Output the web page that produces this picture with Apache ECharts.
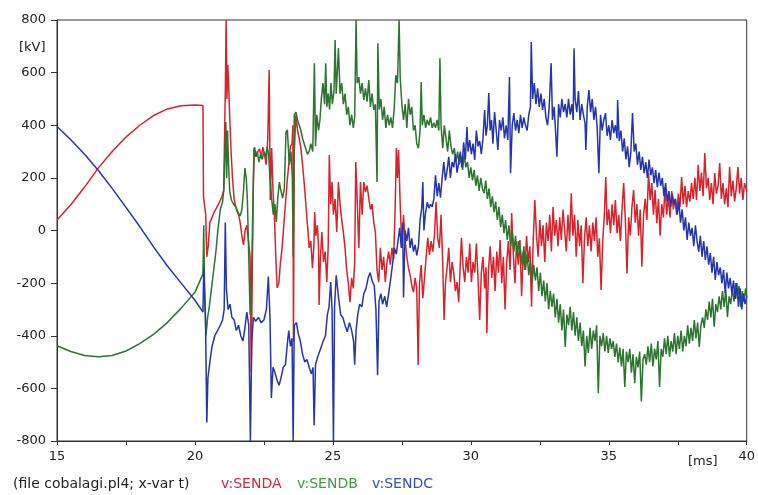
<!DOCTYPE html>
<html>
<head>
<meta charset="utf-8">
<script src="https://cdn.jsdelivr.net/npm/echarts@6/dist/echarts.min.js"></script>
<style>
  html, body { margin: 0; padding: 0; background: #fff; }
  #chart { width: 758px; height: 495px; }
</style>
</head>
<body>
<div id="chart"></div>
<script>
// ATP plot: sending-end phase voltages [kV] against time [ms]
const xTicks = [15, 20, 25, 30, 35, 40];
const yTicks = [800, 600, 400, 200, 0, -200, -400, -600, -800];

// v:SENDA  [t (ms), kV]
const sendA = [
  [15.0,40],[15.5,98],[16.0,165],[16.5,238],[17.0,300],[17.5,355],[18.0,400],[18.5,437],[19.0,462],[19.5,474],[20.0,477],[20.29,475],
  [20.31,128],[20.36,135],[20.39,60],[20.43,-100],[20.48,-60],[20.54,30],[20.62,50],[20.7,70],[20.8,90],[20.9,110],[20.98,130],[21.04,150],
  [21.08,400],[21.1,522],[21.13,800],[21.16,500],[21.19,630],[21.22,560],[21.26,430],[21.31,300],[21.36,200],[21.42,120],[21.5,80],[21.58,60],
  [21.64,30],[21.7,-20],[21.76,-55],[21.82,0],[21.88,20],[21.94,-40],[22.0,-100],[22.04,-540],[22.08,-150],[22.12,200],[22.16,317],[22.22,280],
  [22.28,300],[22.34,310],[22.4,280],[22.46,317],[22.52,290],[22.58,250],[22.64,350],[22.69,610],[22.73,116],[22.78,313],[22.83,150],[22.88,59],
  [22.93,-100],[22.98,-218],[23.04,-200],[23.1,-120],[23.16,-66],[23.22,20],[23.28,100],[23.34,184],[23.4,250],[23.46,320],[23.52,330],[23.55,400],
  [23.57,-423],[23.6,300],[23.66,439],[23.72,380],[23.78,351],[23.84,313],[23.9,250],[23.96,180],[24.02,100],[24.08,20],[24.14,-66],[24.2,-40],
  [24.26,-143],[24.31,-60],[24.34,70],[24.38,-20],[24.44,20],[24.48,-66],[24.5,-283],[24.55,-100],[24.6,-6],[24.66,-120],[24.72,-80],[24.78,-196],
  [24.83,-60],[24.87,287],[24.92,100],[24.97,184],[25.02,60],[25.08,120],[25.14,-6],[25.2,184],[25.26,100],[25.32,40],[25.38,-6],[25.44,-66],
  [25.5,-150],[25.56,-200],[25.62,-272],[25.68,-180],[25.74,-220],[25.79,-120],[25.83,260],[25.88,120],[25.94,-66],[26.0,184],[26.06,60],[26.12,184],
  [26.18,146],[26.24,170],[26.3,123],[26.36,80],[26.42,100],[26.48,32],[26.54,-6],[26.6,-150],[26.66,-196],[26.72,-66],[26.78,-150],[26.84,-100],
  [26.9,-196],[26.96,-120],[27.02,-80],[27.08,-130],[27.14,-66],[27.2,-110],[27.26,100],[27.3,313],[27.34,200],[27.38,306],[27.44,100],[27.5,-66],
  [27.56,59],[27.62,-40],[27.68,-100],[27.74,-143],[27.8,-170],[27.86,-210],[27.92,-234],[27.98,-180],[28.04,-220],[28.09,-511],[28.14,-200],[28.2,-131],
  [28.26,-257],[28.32,-180],[28.38,-100],[28.44,-28],[28.5,-93],[28.56,-40],[28.62,-80],[28.68,-20],[28.74,108],[28.8,-30],[28.86,-66],[28.92,60],
  [28.98,-120],[29.03,-340],[29.08,-200],[29.14,-140],[29.2,-66],[29.26,-196],[29.32,-120],[29.38,-160],[29.44,-230],[29.5,-196],[29.56,-272],[29.62,-120],
  [29.66,-28],[29.72,-140],[29.78,-196],[29.84,-100],[29.9,-160],[29.96,-50],[30.02,-196],[30.08,-120],[30.14,-160],[30.2,-50],[30.26,-180],[30.32,-340],
  [30.38,-160],[30.44,-100],[30.5,-220],[30.55,-140],[30.58,-390],[30.64,-150],[30.7,-60],[30.76,-180],[30.82,-100],[30.88,-230],[30.94,-80],[31.0,-160],
  [31.06,-36],[31.12,-200],[31.18,-100],[31.24,-300],[31.3,-120],[31.36,-40],[31.42,-150],[31.48,66],[31.54,-90],[31.6,-200],[31.66,-40],[31.72,-130],
  [31.78,-36],[31.84,-250],[31.9,-80],[31.96,-150],[32.02,-20],[32.08,-120],[32.14,-60],[32.2,-290],[32.26,-40],[32.32,116],[32.38,-20],[32.44,-100],
  [32.5,40],[32.56,-60],[32.62,20],[32.68,-120],[32.74,30],[32.8,-40],[32.86,60],[32.92,-80],[32.98,89],[33.04,-20],[33.1,40],[33.16,-60],
  [33.22,50],[33.28,-36],[33.34,80],[33.4,0],[33.46,-80],[33.52,60],[33.58,-40],[33.64,141],[33.7,-20],[33.76,60],[33.82,-100],[33.88,40],
  [33.94,-60],[34.0,20],[34.06,-200],[34.12,-30],[34.18,50],[34.24,-60],[34.3,20],[34.36,-80],[34.42,30],[34.48,-40],[34.54,50],[34.6,-100],
  [34.66,-30],[34.72,-226],[34.78,-40],[34.84,60],[34.89,203],[34.94,20],[35.0,80],[35.06,-10],[35.12,100],[35.18,20],[35.24,116],[35.3,-10],
  [35.36,60],[35.42,-40],[35.48,80],[35.54,180],[35.6,40],[35.66,-163],[35.72,50],[35.78,-20],[35.84,90],[35.9,154],[35.96,30],[36.02,100],
  [36.08,-20],[36.14,80],[36.2,-138],[36.26,60],[36.32,120],[36.38,40],[36.44,218],[36.5,116],[36.56,180],[36.62,60],[36.68,154],[36.74,28],
  [36.8,120],[36.86,-20],[36.92,100],[36.98,50],[37.04,165],[37.1,60],[37.16,130],[37.22,50],[37.28,150],[37.34,80],[37.4,120],[37.46,60],
  [37.52,140],[37.58,89],[37.64,203],[37.7,100],[37.76,170],[37.82,89],[37.88,150],[37.94,110],[38.0,180],[38.06,120],[38.12,200],[38.18,116],
  [38.24,250],[38.3,150],[38.36,220],[38.42,130],[38.48,294],[38.54,160],[38.6,200],[38.66,116],[38.72,180],[38.78,100],[38.84,218],[38.9,140],
  [38.96,170],[39.02,256],[39.08,120],[39.14,180],[39.2,100],[39.26,160],[39.32,89],[39.38,241],[39.44,130],[39.5,190],[39.56,110],[39.62,160],
  [39.68,241],[39.74,140],[39.8,200],[39.86,116],[39.92,180],[40.0,150]
];

// v:SENDB  [t (ms), kV]
const sendB = [
  [15.0,-438],[15.5,-460],[16.0,-475],[16.5,-480],[17.0,-475],[17.5,-458],[18.0,-430],[18.5,-395],[19.0,-350],[19.5,-295],[20.0,-235],[20.29,-165],
  [20.32,20],[20.35,-245],[20.4,-400],[20.46,-330],[20.52,-290],[20.6,-220],[20.68,-150],[20.76,-80],[20.84,10],[20.92,80],[21.0,108],[21.05,160],
  [21.09,300],[21.12,412],[21.15,200],[21.18,380],[21.22,250],[21.26,150],[21.32,116],[21.4,100],[21.48,90],[21.56,70],[21.64,55],[21.7,80],
  [21.76,150],[21.81,237],[21.86,200],[21.9,120],[21.95,-100],[22.0,-320],[22.05,-200],[22.1,100],[22.14,313],[22.2,280],[22.26,300],[22.32,260],
  [22.38,290],[22.44,270],[22.5,300],[22.56,280],[22.62,317],[22.67,290],[22.72,200],[22.78,120],[22.84,60],[22.9,100],[22.95,32],[23.0,120],
  [23.06,184],[23.12,150],[23.18,123],[23.24,160],[23.3,374],[23.35,382],[23.42,250],[23.48,300],[23.53,200],[23.56,-100],[23.6,440],[23.66,450],
  [23.72,420],[23.78,400],[23.84,380],[23.9,350],[23.96,330],[24.02,310],[24.08,290],[24.14,300],[24.2,330],[24.27,300],[24.33,636],[24.37,320],
  [24.42,440],[24.48,380],[24.53,420],[24.58,500],[24.64,560],[24.7,480],[24.74,636],[24.78,470],[24.83,520],[24.88,460],[24.93,560],[24.98,480],
  [25.04,530],[25.08,724],[25.12,520],[25.16,600],[25.2,693],[25.26,520],[25.32,560],[25.38,480],[25.44,520],[25.5,440],[25.56,470],[25.62,400],
  [25.68,440],[25.74,390],[25.79,430],[25.84,800],[25.88,560],[25.94,583],[26.0,520],[26.06,560],[26.12,496],[26.18,540],[26.24,490],[26.3,572],
  [26.36,470],[26.42,520],[26.48,458],[26.54,480],[26.6,184],[26.63,712],[26.68,460],[26.74,500],[26.8,420],[26.86,470],[26.92,390],[26.98,440],
  [27.04,400],[27.1,430],[27.16,390],[27.22,460],[27.28,590],[27.34,560],[27.4,800],[27.44,580],[27.5,480],[27.56,420],[27.62,480],[27.68,390],
  [27.74,500],[27.8,440],[27.86,470],[27.92,380],[27.98,400],[28.04,330],[28.1,313],[28.16,380],[28.2,564],[28.24,400],[28.3,439],[28.36,390],
  [28.42,420],[28.48,400],[28.54,430],[28.6,390],[28.66,410],[28.72,390],[28.78,420],[28.84,380],[28.88,655],[28.92,400],[28.98,313],[29.04,400],
  [29.1,350],[29.16,300],[29.22,380],[29.28,320],[29.34,290],[29.4,313],[29.46,260],[29.52,300],[29.58,250],[29.64,280],[29.7,230],[29.76,290],
  [29.82,240],[29.88,260],[29.94,200],[30.0,240],[30.06,190],[30.12,230],[30.18,170],[30.24,210],[30.3,150],[30.36,200],[30.42,160],[30.48,142],
  [30.54,190],[30.6,120],[30.66,160],[30.72,89],[30.78,130],[30.84,70],[30.9,110],[30.96,40],[31.02,90],[31.08,13],[31.14,60],[31.2,-10],
  [31.26,40],[31.32,-36],[31.38,20],[31.44,-60],[31.5,0],[31.56,-80],[31.62,-20],[31.68,-100],[31.74,-40],[31.8,-74],[31.86,-130],[31.92,-60],
  [31.98,-150],[32.04,-90],[32.1,-170],[32.16,-110],[32.22,-200],[32.28,-130],[32.34,-190],[32.4,-140],[32.46,-230],[32.52,-160],[32.58,-250],[32.64,-190],
  [32.7,-270],[32.76,-200],[32.82,-300],[32.88,-230],[32.94,-290],[33.0,-240],[33.06,-330],[33.12,-260],[33.18,-350],[33.24,-280],[33.3,-380],[33.36,-300],
  [33.42,-443],[33.48,-320],[33.54,-360],[33.6,-290],[33.66,-380],[33.72,-310],[33.78,-400],[33.84,-330],[33.9,-420],[33.96,-350],[34.02,-440],[34.08,-380],
  [34.14,-517],[34.2,-400],[34.26,-465],[34.32,-370],[34.38,-450],[34.44,-380],[34.5,-420],[34.56,-360],[34.62,-618],[34.68,-400],[34.74,-440],[34.8,-390],
  [34.86,-460],[34.92,-400],[34.98,-465],[35.04,-410],[35.1,-450],[35.16,-420],[35.22,-480],[35.28,-430],[35.34,-500],[35.4,-445],[35.46,-517],[35.52,-450],
  [35.58,-595],[35.64,-460],[35.7,-500],[35.76,-450],[35.82,-540],[35.88,-470],[35.94,-580],[36.0,-480],[36.06,-520],[36.12,-460],[36.18,-650],[36.24,-490],
  [36.3,-470],[36.36,-510],[36.42,-440],[36.48,-500],[36.54,-430],[36.6,-517],[36.66,-450],[36.72,-490],[36.78,-420],[36.84,-595],[36.9,-450],[36.96,-480],
  [37.02,-410],[37.08,-470],[37.14,-400],[37.2,-480],[37.26,-420],[37.32,-460],[37.38,-390],[37.44,-470],[37.5,-400],[37.56,-450],[37.62,-380],[37.68,-460],
  [37.74,-400],[37.8,-440],[37.86,-360],[37.92,-430],[37.98,-370],[38.04,-420],[38.1,-340],[38.16,-410],[38.22,-350],[38.28,-443],[38.34,-360],[38.4,-330],
  [38.46,-370],[38.52,-300],[38.58,-340],[38.64,-270],[38.7,-330],[38.76,-260],[38.82,-366],[38.88,-280],[38.94,-310],[39.0,-250],[39.06,-300],[39.12,-230],
  [39.18,-290],[39.24,-226],[39.3,-329],[39.36,-250],[39.42,-280],[39.48,-220],[39.54,-270],[39.6,-200],[39.66,-260],[39.72,-210],[39.78,-290],[39.84,-230],
  [39.9,-270],[39.96,-220],[40.0,-250]
];

// v:SENDC  [t (ms), kV]
const sendC = [
  [15.0,395],[15.5,345],[16.0,290],[16.5,228],[17.0,160],[17.5,88],[18.0,15],[18.5,-62],[19.0,-135],[19.5,-200],[20.0,-265],[20.29,-310],
  [20.32,-140],[20.38,-320],[20.43,-730],[20.47,-560],[20.54,-500],[20.62,-440],[20.72,-400],[20.82,-380],[20.92,-360],[21.0,-340],[21.06,-300],[21.1,30],
  [21.14,-220],[21.2,-300],[21.27,-280],[21.34,-330],[21.42,-340],[21.5,-380],[21.58,-360],[21.66,-400],[21.74,-420],[21.8,-380],[21.88,-310],[21.95,-360],
  [22.01,-800],[22.06,-420],[22.12,-330],[22.2,-345],[22.3,-330],[22.4,-350],[22.5,-340],[22.59,-300],[22.66,-175],[22.72,-330],[22.77,-637],[22.83,-520],
  [22.9,-540],[22.98,-570],[23.05,-588],[23.12,-560],[23.2,-520],[23.28,-510],[23.35,-430],[23.4,-380],[23.46,-440],[23.52,-410],[23.56,-800],[23.6,-360],
  [23.68,-350],[23.74,-390],[23.82,-420],[23.9,-470],[23.98,-500],[24.06,-490],[24.14,-520],[24.22,-545],[24.28,-520],[24.32,-740],[24.37,-510],[24.45,-480],
  [24.55,-450],[24.65,-420],[24.73,-400],[24.8,-320],[24.86,-290],[24.92,-196],[24.97,-300],[25.02,-800],[25.06,-290],[25.12,-170],[25.2,-250],[25.28,-320],
  [25.36,-330],[25.44,-360],[25.52,-385],[25.6,-350],[25.68,-380],[25.75,-420],[25.79,-510],[25.84,-380],[25.9,-320],[25.97,-280],[26.05,-290],[26.12,-240],
  [26.2,-220],[26.28,-180],[26.35,-160],[26.42,-190],[26.5,-210],[26.56,-300],[26.62,-550],[26.67,-270],[26.74,-240],[26.8,-280],[26.88,-250],[26.95,-290],
  [27.02,-240],[27.1,-180],[27.17,-120],[27.23,-66],[27.3,-90],[27.36,-40],[27.42,10],[27.48,-66],[27.53,30],[27.56,-255],[27.62,0],[27.68,-40],
  [27.74,10],[27.8,-66],[27.86,-30],[27.92,-80],[27.98,-55],[28.04,-95],[28.1,-60],[28.16,40],[28.22,85],[28.26,184],[28.3,0],[28.35,60],
  [28.42,108],[28.48,85],[28.54,100],[28.6,90],[28.66,120],[28.72,210],[28.78,130],[28.84,180],[28.9,125],[28.96,200],[29.02,260],[29.08,190],
  [29.14,230],[29.2,280],[29.26,200],[29.32,260],[29.38,240],[29.44,290],[29.5,220],[29.56,260],[29.62,300],[29.68,240],[29.74,335],[29.8,270],
  [29.86,393],[29.9,300],[29.96,344],[30.02,290],[30.08,330],[30.14,268],[30.2,380],[30.26,320],[30.32,340],[30.38,290],[30.44,350],[30.5,458],
  [30.55,360],[30.6,400],[30.65,522],[30.7,380],[30.75,420],[30.8,330],[30.86,450],[30.92,380],[30.98,306],[31.04,420],[31.1,380],[31.16,430],
  [31.22,350],[31.28,400],[31.34,344],[31.4,583],[31.44,218],[31.5,400],[31.56,446],[31.62,380],[31.68,420],[31.74,370],[31.8,440],[31.86,390],
  [31.92,430],[31.98,400],[32.04,380],[32.1,440],[32.16,470],[32.19,716],[32.24,500],[32.3,560],[32.36,480],[32.42,540],[32.48,470],[32.54,520],
  [32.6,458],[32.66,500],[32.72,430],[32.78,400],[32.84,470],[32.91,636],[32.96,420],[33.02,470],[33.08,360],[33.12,280],[33.18,480],[33.24,430],
  [33.3,500],[33.36,450],[33.42,480],[33.48,430],[33.54,500],[33.6,440],[33.66,480],[33.71,420],[33.74,693],[33.78,500],[33.84,450],[33.9,530],
  [33.96,420],[34.02,480],[34.08,440],[34.14,407],[34.17,306],[34.22,470],[34.28,534],[34.34,450],[34.4,500],[34.46,420],[34.52,470],[34.58,390],
  [34.64,218],[34.7,440],[34.76,380],[34.82,420],[34.88,446],[34.94,360],[35.0,400],[35.06,344],[35.12,420],[35.18,370],[35.24,400],[35.3,350],
  [35.32,496],[35.38,340],[35.44,380],[35.5,300],[35.56,350],[35.62,270],[35.68,320],[35.74,241],[35.8,300],[35.86,446],[35.92,300],[35.98,330],
  [36.04,250],[36.1,300],[36.16,230],[36.22,280],[36.28,218],[36.34,260],[36.4,200],[36.46,270],[36.52,210],[36.58,240],[36.64,180],[36.7,230],
  [36.76,165],[36.82,220],[36.88,170],[36.94,200],[37.0,130],[37.06,180],[37.12,110],[37.18,150],[37.24,90],[37.3,140],[37.36,100],[37.42,120],
  [37.48,60],[37.54,110],[37.6,30],[37.66,80],[37.72,0],[37.78,50],[37.84,-36],[37.9,30],[37.96,-20],[38.02,10],[38.08,-60],[38.14,20],
  [38.2,-40],[38.26,-80],[38.32,-20],[38.38,-100],[38.44,-40],[38.5,-112],[38.56,-60],[38.62,-130],[38.68,-86],[38.74,-160],[38.8,-100],[38.86,-188],
  [38.92,-120],[38.98,-170],[39.04,-140],[39.1,-200],[39.16,-150],[39.22,-238],[39.28,-160],[39.34,-220],[39.4,-180],[39.46,-238],[39.52,-190],[39.58,-260],
  [39.64,-200],[39.7,-290],[39.76,-220],[39.82,-300],[39.88,-240],[39.94,-280],[40.0,-250]
];

const seriesNames = ['v:SENDA', 'v:SENDB', 'v:SENDC'];
const seriesColors = ['#d6232c', '#2c7430', '#2535ae'];
const legendColors = ['#d22a3c', '#3f9d46', '#3a4cc8'];

const FONT = '"DejaVu Sans", Verdana, sans-serif';
const chart = echarts.init(document.getElementById('chart'), null, { renderer: 'canvas' });

function lineSeries(name, data, color) {
  return {
    name, type: 'line', data,
    showSymbol: false, symbol: 'none', sampling: null,
    lineStyle: { color, width: 1.5 },
    emphasis: { disabled: true },
    animation: false, z: 2
  };
}

chart.setOption({
  backgroundColor: '#ffffff',
  animation: false,
  grid: { left: 57, right: 6, top: 20, bottom: 54, show: true, borderColor: '#333', borderWidth: 1 },
  xAxis: {
    type: 'value', min: 15, max: 40, interval: 5,
    axisLine: { show: true, onZero: false, lineStyle: { color: '#333', width: 1 } },
    axisTick: { show: true, length: 4, lineStyle: { color: '#333' } },
    minorTick: { show: true, splitNumber: 2, length: 4, lineStyle: { color: '#333' } },
    splitLine: { show: false },
    axisLabel: {
      color: '#222', fontFamily: FONT, fontSize: 13, margin: 9,
      formatter: v => (xTicks.indexOf(v) >= 0 ? String(v) : '')
    }
  },
  yAxis: {
    type: 'value', min: -800, max: 800, interval: 200,
    axisLine: { show: true, onZero: false, lineStyle: { color: '#333', width: 1 } },
    axisTick: { show: true, length: 6, lineStyle: { color: '#333' } },
    splitLine: { show: false },
    axisLabel: {
      color: '#222', fontFamily: FONT, fontSize: 13, margin: 11,
      formatter: v => (yTicks.indexOf(v) >= 0 ? String(v) : '')
    }
  },
  series: [
    lineSeries(seriesNames[0], sendA, seriesColors[0]),
    lineSeries(seriesNames[1], sendB, seriesColors[1]),
    lineSeries(seriesNames[2], sendC, seriesColors[2])
  ],
  graphic: [
    { type: 'text', left: 19, top: 41, style: { text: '[kV]', fill: '#222', font: '13px ' + FONT } },
    { type: 'text', left: 688, top: 455, style: { text: '[ms]', fill: '#222', font: '13px ' + FONT } },
    { type: 'text', left: 13, top: 477, style: { text: '(file cobalagi.pl4; x-var t)', fill: '#222', font: '14px ' + FONT } },
    { type: 'text', left: 221, top: 477, style: { text: seriesNames[0], fill: legendColors[0], font: '14px ' + FONT } },
    { type: 'text', left: 297, top: 477, style: { text: seriesNames[1], fill: legendColors[1], font: '14px ' + FONT } },
    { type: 'text', left: 372, top: 477, style: { text: seriesNames[2], fill: legendColors[2], font: '14px ' + FONT } }
  ]
});
</script>
</body>
</html>
